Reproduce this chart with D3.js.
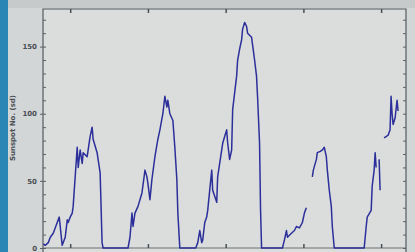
<!DOCTYPE html>
<html>
<head>
<meta charset="utf-8">
<script src="https://cdn.jsdelivr.net/npm/d3@7"></script>
<style>
  body { margin: 0; background: #cfd3d3; }
  svg { display: block; }
</style>
</head>
<body>
<div class="chart"></div>
<script>
// values, null = gap in the line
const years = [
  // cycle 1
  1946.54, 1946.79, 1947.18, 1947.44, 1947.82, 1948.33, 1948.59, 1948.97, 1949.36, 1949.62, 1949.74, 1950.0, 1950.26,
  1950.38, 1950.90, 1951.03, 1951.28, 1951.54, 1951.67, 1952.18, 1952.31, 1952.56, 1952.82, 1952.95, 1953.46, 1953.59,
  1953.85, 1954.10, 1954.23,
  // cycle 2
  1957.44, 1957.69, 1957.95, 1958.08, 1958.33, 1958.72, 1959.23, 1959.62, 1959.87, 1960.0, 1960.26, 1960.51, 1960.90,
  1961.28, 1961.54, 1961.92, 1962.18, 1962.44, 1962.56, 1962.82, 1963.21, 1963.46, 1963.72, 1963.85, 1964.10,
  // cycle 3
  1966.15, 1966.41, 1966.67, 1966.92, 1967.05, 1967.31, 1967.56, 1967.69, 1968.21, 1968.33, 1968.85, 1968.97, 1969.49,
  1969.62, 1969.87, 1970.13, 1970.26, 1970.51, 1970.77, 1970.90, 1971.41, 1971.54, 1971.79, 1972.05, 1972.18, 1972.44,
  1972.69, 1972.82, 1973.33, 1973.72, 1973.97, 1974.10, 1974.36, 1974.49, 1974.62,
  // cycle 4
  1977.31, 1977.56, 1977.82, 1977.95, 1978.46, 1978.85, 1979.10, 1979.49, 1979.87, 1980.13, 1980.38, 1980.6,
  1981.15, 1981.28, 1981.67, 1981.79, 1982.18, 1982.44, 1982.69, 1982.95, 1983.08, 1983.33, 1983.59, 1983.72, 1983.97,
  // cycle 5
  1987.82, 1988.08, 1988.21, 1988.72, 1988.85, 1989.10, 1989.23, 1989.36, 1989.5,
  1989.74, 1989.87, 1990.1,
  1990.38, 1990.64, 1990.90, 1991.15, 1991.28, 1991.41, 1991.54, 1991.80, 1992.05, 1992.18
];
const sunspots = [
  3, 2, 4, 8, 11, 19, 23, 2, 8, 21, 19, 23, 26,
  31, 75, 60, 73, 63, 71, 68, 73, 83, 90, 81, 71, 66,
  56, 4, 0,
  0, 8, 26, 16, 26, 31, 41, 58, 53, 48, 36, 51, 68,
  81, 88, 100, 113, 105, 110, 100, 95, 75, 51, 26, 0,
  0, 4, 13, 4, 6, 19, 23, 28, 58, 43, 34, 53, 73,
  78, 83, 88, 78, 66, 73, 103, 128, 140, 148, 155, 163, 168,
  165, 160, 157, 140, 128, 113, 78, 28, 0,
  0, 6, 13, 8, 11, 13, 16, 15, 19, 26, 30, null,
  53, 58, 66, 71, 72, 73, 75, 68, 58, 43, 31, 16, 0,
  0, 16, 23, 28, 46, 58, 71, 60, null,
  66, 43, null,
  82, 83, 84, 88, 113, 100, 92, 97, 110, 102
];
const yTicks = [0, 50, 100, 150];
const xTicks = [1950, 1960, 1970, 1980, 1990];

const outerWidth = 415;
const outerHeight = 252;
const margin = {top: 9, left: 43, right: 9, bottom: 4};
const width = outerWidth - margin.left - margin.right;
const height = outerHeight - margin.top - margin.bottom;

const root = d3.select('.chart')
  .append('svg')
  .attr('width', outerWidth)
  .attr('height', outerHeight);

// background bits of the photo
root.append('rect').attr('width', outerWidth).attr('height', outerHeight).attr('fill', '#d3d6d6');
root.append('rect').attr('width', outerWidth).attr('height', 8).attr('fill', '#c6caca');
root.append('rect').attr('width', 8).attr('height', outerHeight).attr('fill', '#2b86b6');

const svg = root.append('g')
  .attr('transform', 'translate(' + margin.left + ',' + margin.top + ')');

svg.append('rect')
  .attr('width', width)
  .attr('height', height + 10)
  .attr('fill', '#dadddc');

const xScale = d3.scaleLinear()
  .domain([1946.5, 1993.2])
  .range([0, width]);

const yScale = d3.scaleLinear()
  .domain([0, 178])
  .range([height, 0]);

// frame
svg.append('path')
  .attr('d', 'M0,' + (height + 10) + 'V0H' + width + 'V' + (height + 10))
  .attr('fill', 'none')
  .attr('stroke', '#555a5e')
  .attr('stroke-width', 1.2);

svg.append('line')
  .attr('x1', 0).attr('x2', width)
  .attr('y1', height).attr('y2', height)
  .attr('stroke', '#6b7073').attr('stroke-width', 1);

// left axis, ticks point inward
svg.append('g')
  .call(d3.axisRight(yScale).tickValues(d3.range(0, 180, 10)).tickSize(3).tickFormat(''))
  .call(g => g.select('.domain').remove())
  .selectAll('line').attr('stroke', '#5c6165');

svg.append('g').call(d3.axisLeft(yScale).tickValues(yTicks).tickSize(3).tickPadding(3))
  .call(g => g.select('.domain').remove())
  .call(g => g.selectAll('line').attr('stroke', '#5c6165'))
  .call(g => g.selectAll('text')
    .attr('font-family', 'DejaVu Sans')
    .attr('font-size', 7)
    .attr('font-weight', 'bold')
    .attr('fill', '#4a4f55'));

// right axis
svg.append('g')
  .attr('transform', 'translate(' + width + ',0)')
  .call(d3.axisLeft(yScale).tickValues(d3.range(0, 180, 10)).tickSize(3).tickFormat(''))
  .call(g => g.select('.domain').remove())
  .selectAll('line').attr('stroke', '#5c6165');

// top and bottom ticks
svg.append('g')
  .call(d3.axisBottom(xScale).tickValues(xTicks).tickSize(4).tickFormat(''))
  .call(g => g.select('.domain').remove())
  .selectAll('line').attr('stroke', '#4a4f55').attr('stroke-width', 1.5);

svg.append('g')
  .attr('transform', 'translate(0,' + height + ')')
  .call(d3.axisTop(xScale).tickValues(xTicks).tickSize(4).tickFormat(''))
  .call(g => g.select('.domain').remove())
  .selectAll('line').attr('stroke', '#4a4f55').attr('stroke-width', 1.5);

// y label
root.append('text')
  .attr('transform', 'translate(15,128) rotate(-90)')
  .attr('text-anchor', 'middle')
  .attr('font-family', 'DejaVu Sans')
  .attr('font-size', 7)
  .attr('font-weight', 'bold')
  .attr('fill', '#4a4f55')
  .text('Sunspot No. (sd)');

const data = years.map((y, i) => ({year: y, value: sunspots[i]}));

const line = d3.line()
  .defined(d => d.value !== null)
  .x(d => xScale(d.year))
  .y(d => yScale(d.value));

svg.append('path')
  .datum(data)
  .attr('fill', 'none')
  .attr('stroke', '#2c2f9a')
  .attr('stroke-width', 1.5)
  .attr('stroke-linejoin', 'round')
  .attr('d', line);
</script>
</body>
</html>
